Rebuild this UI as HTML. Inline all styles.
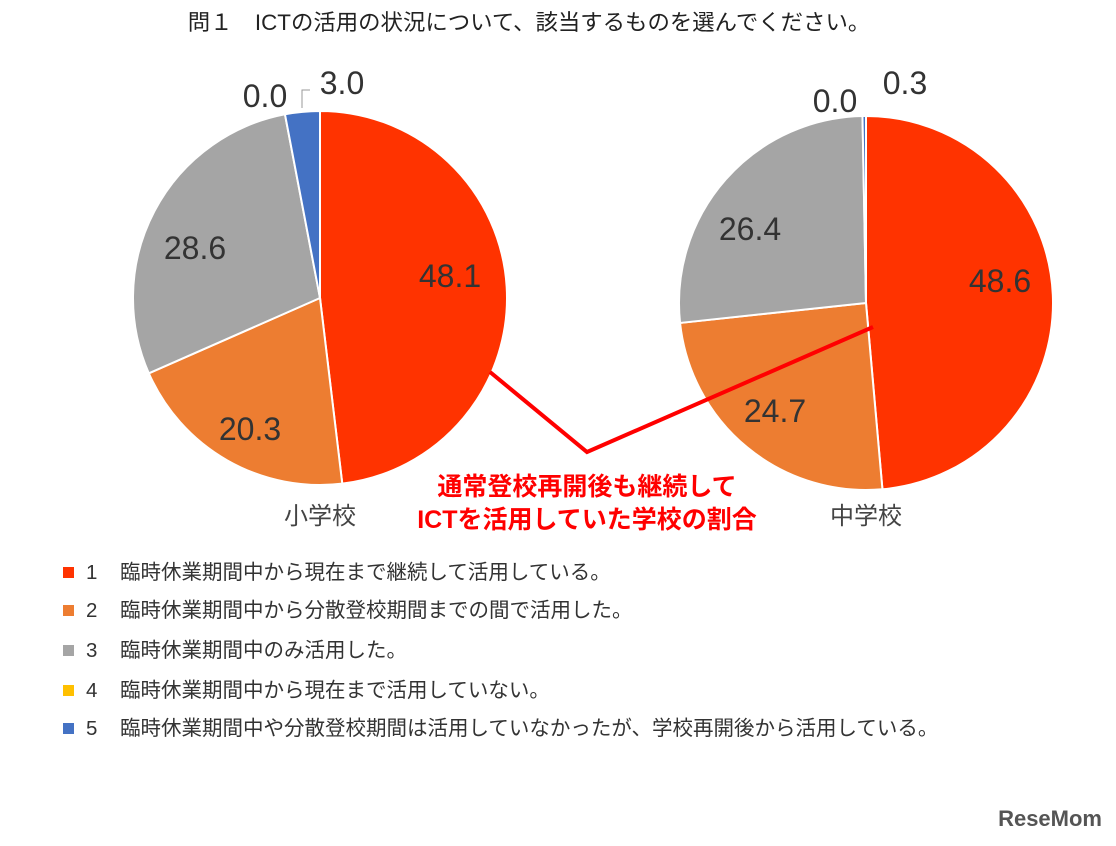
<!DOCTYPE html>
<html><head><meta charset="utf-8"><style>
body{margin:0;background:#fff;width:1116px;height:841px;overflow:hidden;font-family:"Liberation Sans","Noto Sans CJK JP",sans-serif}
svg text{font-family:"Liberation Sans","Noto Sans CJK JP",sans-serif}
</style></head><body>
<svg id="c" width="1116" height="841">
<text x="529" y="30" text-anchor="middle" font-size="22.4" fill="#222">問１　ICTの活用の状況について、該当するものを選んでください。</text>
<g id="pies"></g>
<polyline points="490,372 587,452 873,327" fill="none" stroke="#ff0000" stroke-width="4"/>
<text x="320" y="524" text-anchor="middle" font-size="24" fill="#444">小学校</text>
<text x="866" y="524" text-anchor="middle" font-size="24" fill="#444">中学校</text>
<text x="587" y="495" text-anchor="middle" font-size="25" font-weight="bold" fill="#ff0000">通常登校再開後も継続して</text>
<text x="587" y="528" text-anchor="middle" font-size="25" font-weight="bold" fill="#ff0000">ICTを活用していた学校の割合</text>
<g id="legend"></g>
<text x="1102" y="826" text-anchor="end" font-size="22" font-weight="bold" fill="#555">ReseMom</text>
</svg>
<script>
const categoryNums=["1","2","3","4","5"];
const categories=["臨時休業期間中から現在まで継続して活用している。","臨時休業期間中から分散登校期間までの間で活用した。","臨時休業期間中のみ活用した。","臨時休業期間中から現在まで活用していない。","臨時休業期間中や分散登校期間は活用していなかったが、学校再開後から活用している。"];
const elementaryValues=[48.1,20.3,28.6,0.0,3.0];
const juniorHighValues=[48.6,24.7,26.4,0.0,0.3];
const colors=["#ff3300","#ed7d31","#a5a5a5","#ffc000","#4472c4"];
const NS="http://www.w3.org/2000/svg";
const pies=document.getElementById('pies');
function pt(cx,cy,r,f){const a=f*2*Math.PI;return [cx+r*Math.sin(a),cy-r*Math.cos(a)];}
function drawPie(vals,cx,cy,r,name,labelPos){
  const tot=vals.reduce((a,b)=>a+b,0);let acc=0;
  vals.forEach((v,i)=>{
    const f0=acc/tot,f1=(acc+v)/tot;acc+=v;
    if(v>0){
      const p=document.createElementNS(NS,'path');
      const [x0,y0]=pt(cx,cy,r,f0),[x1,y1]=pt(cx,cy,r,f1);
      p.setAttribute('d',`M${cx},${cy}L${x0},${y0}A${r},${r} 0 ${f1-f0>0.5?1:0} 1 ${x1},${y1}Z`);
      p.setAttribute('fill',colors[i]);p.setAttribute('stroke','#fff');p.setAttribute('stroke-width','2');
      
      
      pies.appendChild(p);
    }
    const t=document.createElementNS(NS,'text');
    t.setAttribute('x',labelPos[i][0]);t.setAttribute('y',labelPos[i][1]);
    t.setAttribute('text-anchor','middle');t.setAttribute('font-size','32');t.setAttribute('fill','#333');
    t.textContent=v.toFixed(1);
    
    
    pies.appendChild(t);
  });
}
drawPie(elementaryValues,320,298,187,'elementary',[[450,287],[250,440],[195,259],[265,107],[342,94]]);
drawPie(juniorHighValues,866,303,187,'junior-high',[[1000,292],[775,422],[750,240],[835,112],[905,94]]);
const ld=document.createElementNS(NS,'polyline');
ld.setAttribute('points','302,108 302,90 310,90');ld.setAttribute('fill','none');ld.setAttribute('stroke','#999');


pies.appendChild(ld);
const lg=document.getElementById('legend');
const ly=[572,610,650,690,728];
categories.forEach((c,i)=>{
  const g=document.createElementNS(NS,'g');
  
  
  const r=document.createElementNS(NS,'rect');
  r.setAttribute('x',63);r.setAttribute('y',ly[i]-5);r.setAttribute('width',11);r.setAttribute('height',11);r.setAttribute('fill',colors[i]);
  const n=document.createElementNS(NS,'text');
  n.setAttribute('x',86);n.setAttribute('y',ly[i]+7);n.setAttribute('font-size','20.5');n.setAttribute('fill','#333');
  n.textContent=categoryNums[i];
  const t=document.createElementNS(NS,'text');
  t.setAttribute('x',120);t.setAttribute('y',ly[i]+7);t.setAttribute('font-size','20.5');t.setAttribute('fill','#333');
  t.textContent=c;
  g.appendChild(r);g.appendChild(n);g.appendChild(t);lg.appendChild(g);
});
</script>
</body></html>
